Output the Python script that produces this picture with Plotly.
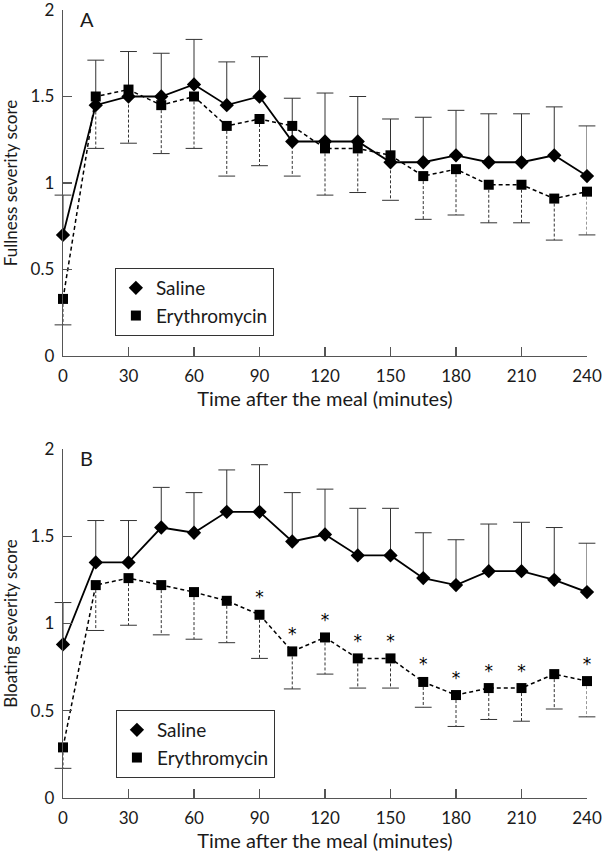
import plotly.graph_objects as go

# ---------------- data ----------------
time_min = [0, 15, 30, 45, 60, 75, 90, 105, 120, 135, 150, 165, 180, 195, 210, 225, 240]

fullness_saline = [0.70, 1.45, 1.50, 1.50, 1.57, 1.45, 1.50, 1.24, 1.24, 1.24, 1.12, 1.12, 1.16, 1.12, 1.12, 1.16, 1.04]
fullness_saline_upper = [0.93, 1.71, 1.76, 1.75, 1.83, 1.70, 1.73, 1.49, 1.52, 1.50, 1.37, 1.38, 1.42, 1.40, 1.40, 1.44, 1.33]
fullness_erythro = [0.33, 1.50, 1.54, 1.45, 1.50, 1.33, 1.37, 1.33, 1.20, 1.20, 1.16, 1.04, 1.08, 0.99, 0.99, 0.91, 0.95]
fullness_erythro_lower = [0.18, 1.20, 1.23, 1.17, 1.20, 1.04, 1.10, 1.04, 0.93, 0.945, 0.90, 0.79, 0.815, 0.77, 0.77, 0.67, 0.70]

bloating_saline = [0.88, 1.35, 1.35, 1.55, 1.52, 1.64, 1.64, 1.47, 1.51, 1.39, 1.39, 1.26, 1.22, 1.30, 1.30, 1.25, 1.18]
bloating_saline_upper = [1.12, 1.59, 1.59, 1.78, 1.75, 1.88, 1.91, 1.75, 1.77, 1.66, 1.66, 1.52, 1.48, 1.57, 1.58, 1.55, 1.46]
bloating_erythro = [0.29, 1.22, 1.26, 1.22, 1.18, 1.13, 1.05, 0.84, 0.92, 0.80, 0.80, 0.665, 0.59, 0.63, 0.63, 0.71, 0.67]
bloating_erythro_lower = [0.17, 0.96, 0.99, 0.935, 0.91, 0.89, 0.80, 0.625, 0.71, 0.63, 0.63, 0.52, 0.41, 0.45, 0.44, 0.51, 0.465]
bloating_significant = [False, False, False, False, False, False, True, True, True, True, True, True, True, True, True, False, True]

x_ticks = [0, 30, 60, 90, 120, 150, 180, 210, 240]
y_ticks = [0, 0.5, 1, 1.5, 2]
y_tick_text = ["0", "0.5", "1", "1.5", "2"]

series_names = ["Saline", "Erythromycin"]
panel_labels = ["A", "B"]
y_titles = ["Fullness severity score", "Bloating severity score"]
x_title = "Time after the meal (minutes)"

FONT = "Lato"
INK = "#1a1a1a"
AXIS = "#555555"
BAR = "#333333"


def segments(x, a, b):
    xs, ys = [], []
    for xi, ai, bi in zip(x, a, b):
        xs += [xi, xi, None]
        ys += [ai, bi, None]
    return xs, ys


fig = go.Figure()

panels = [
    (fullness_saline, fullness_saline_upper, fullness_erythro, fullness_erythro_lower, None, "x", "y", "legend"),
    (bloating_saline, bloating_saline_upper, bloating_erythro, bloating_erythro_lower, bloating_significant, "x2", "y2", "legend2"),
]

for sal, sal_up, ery, ery_lo, sig, xa, ya, leg in panels:
    # saline error bars (upward, solid)
    sx, sy = segments(time_min, sal, sal_up)
    fig.add_trace(go.Scatter(x=sx, y=sy, mode="lines", line=dict(color=BAR, width=1),
                             xaxis=xa, yaxis=ya, showlegend=False, hoverinfo="skip", cliponaxis=False))
    fig.add_trace(go.Scatter(x=time_min, y=sal_up, mode="markers",
                             marker=dict(symbol="line-ew", size=12, line=dict(width=1, color=BAR)),
                             xaxis=xa, yaxis=ya, showlegend=False, hoverinfo="skip", cliponaxis=False))
    # erythromycin error bars (downward, dashed)
    ex, ey = segments(time_min, ery, ery_lo)
    fig.add_trace(go.Scatter(x=ex, y=ey, mode="lines", line=dict(color=BAR, width=1, dash="3px,2px"),
                             xaxis=xa, yaxis=ya, showlegend=False, hoverinfo="skip", cliponaxis=False))
    fig.add_trace(go.Scatter(x=time_min, y=ery_lo, mode="markers",
                             marker=dict(symbol="line-ew", size=12, line=dict(width=1, color=BAR)),
                             xaxis=xa, yaxis=ya, showlegend=False, hoverinfo="skip", cliponaxis=False))
    # series lines
    fig.add_trace(go.Scatter(x=time_min, y=sal, mode="lines+markers", name=series_names[0],
                             line=dict(color="black", width=1.8),
                             marker=dict(symbol="diamond", size=11, color="black"),
                             xaxis=xa, yaxis=ya, showlegend=False, cliponaxis=False))
    txt = ["*" if s else "" for s in sig] if sig is not None else None
    fig.add_trace(go.Scatter(x=time_min, y=ery, mode="lines+markers+text" if sig else "lines+markers",
                             name=series_names[1], text=txt, textposition="top center",
                             textfont=dict(family="DejaVu Sans", size=17, color="black"),
                             line=dict(color="black", width=1.5, dash="4px,3px"),
                             marker=dict(symbol="square", size=10, color="black"),
                             xaxis=xa, yaxis=ya, showlegend=False, cliponaxis=False))
    # legend entries (markers only, as in the reference)
    fig.add_trace(go.Scatter(x=[None], y=[None], mode="markers", name=series_names[0],
                             marker=dict(symbol="diamond", size=11, color="black"),
                             xaxis=xa, yaxis=ya, legend=leg, showlegend=True))
    fig.add_trace(go.Scatter(x=[None], y=[None], mode="markers", name=series_names[1],
                             marker=dict(symbol="square", size=10, color="black"),
                             xaxis=xa, yaxis=ya, legend=leg, showlegend=True))

axis_common = dict(showline=True, linecolor=AXIS, linewidth=1.3, ticks="inside", ticklen=9,
                   tickcolor=AXIS, tickwidth=1.3, showgrid=False, zeroline=False, automargin=False,
                   ticklabeloverflow="allow",
                   tickfont=dict(family=FONT, size=17, color=INK), ticklabelstandoff=4)

xcommon = dict(axis_common, range=[0, 240], tickvals=x_ticks,
               title=dict(text=x_title, font=dict(family=FONT, size=20, color=INK), standoff=6))
ycommon = dict(axis_common, range=[0, 2], tickvals=y_ticks, ticktext=y_tick_text)

legend_common = dict(font=dict(family=FONT, size=19, color=INK), bordercolor=BAR, borderwidth=1,
                     bgcolor="white", xanchor="left", yanchor="top", tracegroupgap=0,
                     itemclick=False, itemdoubleclick=False)

fig.update_layout(
    width=602, height=852,
    margin=dict(l=63, r=15, t=10, b=54),
    template="none",
    paper_bgcolor="white", plot_bgcolor="white",
    font=dict(family=FONT, color=INK),
    xaxis=dict(xcommon, domain=[0, 1], anchor="y"),
    yaxis=dict(ycommon, domain=[0.5609, 1.0], anchor="x",
               title=dict(text=y_titles[0], font=dict(family=FONT, size=17, color=INK), standoff=8)),
    xaxis2=dict(xcommon, domain=[0, 1], anchor="y2"),
    yaxis2=dict(ycommon, domain=[0.0, 0.4429], anchor="x2",
                title=dict(text=y_titles[1], font=dict(family=FONT, size=17, color=INK), standoff=8)),
    legend=dict(legend_common, x=0.099, y=0.6726),
    legend2=dict(legend_common, x=0.101, y=0.1117),
    annotations=[
        dict(text=panel_labels[0], xref="x domain", yref="y domain", x=0.045, y=0.975,
             showarrow=False, font=dict(family=FONT, size=20, color=INK), xanchor="center", yanchor="middle"),
        dict(text=panel_labels[1], xref="x2 domain", yref="y2 domain", x=0.045, y=0.975,
             showarrow=False, font=dict(family=FONT, size=20, color=INK), xanchor="center", yanchor="middle"),
    ],
)

fig.write_html(
    "out.html",
    config={"displayModeBar": False, "staticPlot": True},
    post_script="document.body.style.margin='0';document.body.style.overflow='hidden';",
)
